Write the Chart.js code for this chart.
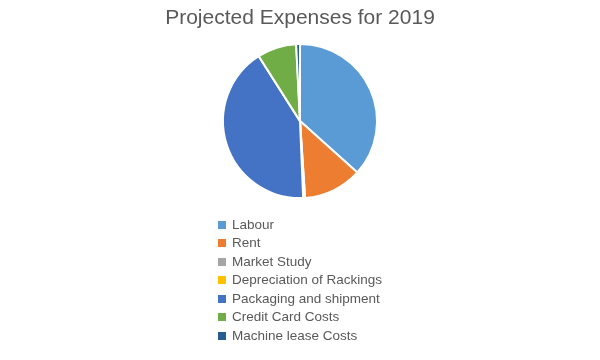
<!DOCTYPE html>
<html>
<head>
<meta charset="utf-8">
<script src="https://cdn.jsdelivr.net/npm/chart.js@4/dist/chart.umd.min.js"></script>
<style>
  html, body { margin: 0; padding: 0; background: #fff; }
  #wrap { position: relative; width: 600px; height: 360px; }
  #c { position: absolute; left: 0; top: 0; }
  #legend { position: absolute; left: 218px; top: 216px; font-family: "Liberation Sans", "DejaVu Sans", sans-serif; font-size: 13.5px; color: #595959; }
  #legend .item { height: 18.47px; line-height: 18.47px; white-space: nowrap; position: relative; padding-left: 14px; }
  #legend .box { position: absolute; left: 0; top: 5px; width: 8px; height: 8px; }
</style>
</head>
<body>
<div id="wrap">
  <canvas id="c" width="600" height="360"></canvas>
  <div id="legend"></div>
</div>
<script>
const titleText = "Projected Expenses for 2019";
const categories = ["Labour", "Rent", "Market Study", "Depreciation of Rackings", "Packaging and shipment", "Credit Card Costs", "Machine lease Costs"];
const values = [36.6, 12.3, 0.2, 0.2, 41.6, 8.2, 0.8];
const colors = ["#5B9BD5", "#ED7D31", "#A5A5A5", "#FFC000", "#4472C4", "#70AD47", "#255E91"];

const chart = new Chart(document.getElementById("c"), {
  type: "pie",
  data: {
    labels: categories,
    datasets: [{
      data: values,
      backgroundColor: colors,
      borderColor: "#ffffff",
      borderWidth: 2,
      hoverOffset: 0,
      radius: 77
    }]
  },
  options: {
    responsive: false,
    animation: false,
    events: [],
    layout: { padding: { top: 0, bottom: 158, left: 0, right: 0 } },
    plugins: {
      legend: { display: false },
      tooltip: { enabled: false },
      title: {
        display: true,
        text: titleText,
        color: "#595959",
        font: { family: "Liberation Sans", size: 21, weight: "normal" },
        padding: { top: 6, bottom: 9 }
      }
    }
  }
});

const leg = document.getElementById("legend");
categories.forEach((name, i) => {
  const d = document.createElement("div");
  d.className = "item";
  const b = document.createElement("span");
  b.className = "box";
  b.style.background = colors[i];
  d.appendChild(b);
  d.appendChild(document.createTextNode(name));
  leg.appendChild(d);
});
</script>
</body>
</html>
